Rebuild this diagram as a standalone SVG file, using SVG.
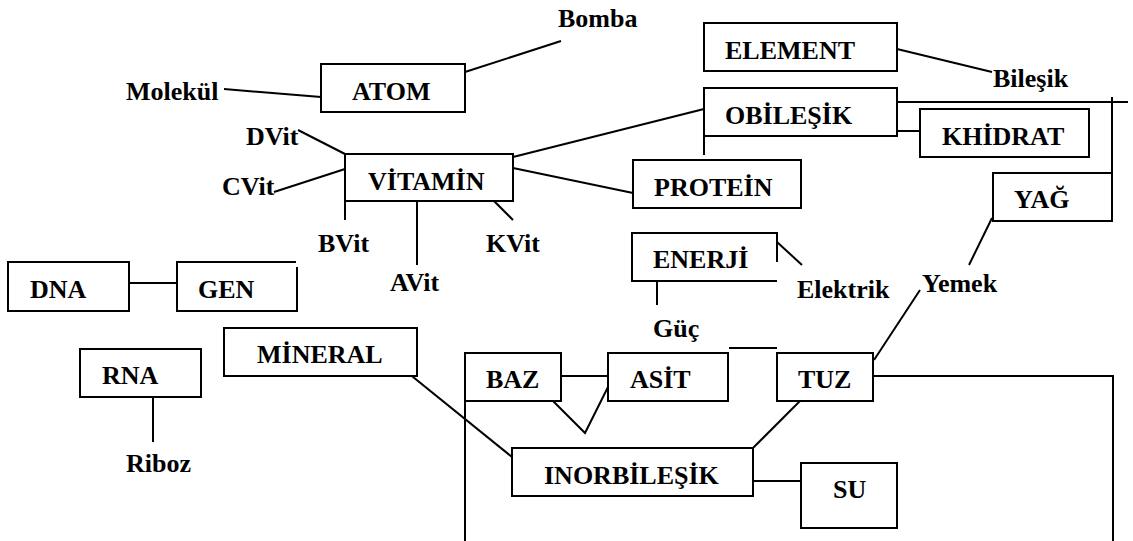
<svg xmlns="http://www.w3.org/2000/svg" width="1133" height="541" viewBox="0 0 1133 541">
<style>
.b{fill:#fff;stroke:#000;stroke-width:2}
.t{font-family:"Liberation Serif","Times New Roman",serif;font-weight:bold;font-size:26px;fill:#000}
.c line,.c polyline{stroke:#000;stroke-width:2;fill:none}
</style>
<rect width="1133" height="541" fill="#fff"/>
<g id="connectors" class="c">
<line x1="224" y1="89" x2="321" y2="97"/>
<line x1="465" y1="72" x2="561" y2="41"/>
<line x1="897" y1="49" x2="992" y2="72"/>
<line x1="895" y1="102" x2="1128" y2="102"/>
<line x1="1112" y1="97" x2="1112" y2="222"/>
<line x1="897" y1="131" x2="920" y2="131"/>
<line x1="704" y1="136" x2="704" y2="155"/>
<line x1="513" y1="157" x2="704" y2="109"/>
<line x1="513" y1="168" x2="633" y2="193"/>
<line x1="298" y1="130" x2="345" y2="154"/>
<line x1="274" y1="192" x2="345" y2="169"/>
<line x1="345" y1="201" x2="345" y2="220"/>
<line x1="417" y1="193" x2="417" y2="265"/>
<line x1="489" y1="196" x2="513" y2="220"/>
<line x1="777" y1="242" x2="802" y2="265"/>
<line x1="657" y1="281" x2="657" y2="305"/>
<line x1="992" y1="218" x2="969" y2="265"/>
<line x1="874" y1="360" x2="920" y2="290"/>
<line x1="729" y1="348" x2="777" y2="348"/>
<line x1="561" y1="376" x2="608" y2="376"/>
<polyline points="538,386 585,433 608,387"/>
<line x1="800" y1="401" x2="753" y2="448"/>
<line x1="392" y1="360" x2="512" y2="457"/>
<line x1="753" y1="481" x2="801" y2="481"/>
<polyline points="873,376 1113,376 1113,541"/>
<line x1="465" y1="401" x2="465" y2="541"/>
<line x1="129" y1="283" x2="177" y2="283"/>
<line x1="153" y1="393" x2="153" y2="442"/>
</g>
<g id="atom"><rect class="b" x="321" y="64" width="144" height="48"/><text class="t" x="352" y="100">ATOM</text></g>
<g id="vitamin"><rect class="b" x="345" y="154" width="168" height="47"/><text class="t" x="368" y="190">VİTAMİN</text></g>
<g id="element"><rect class="b" x="704" y="23" width="193" height="48"/><text class="t" x="725" y="59">ELEMENT</text></g>
<g id="obilesik"><rect class="b" x="704" y="88" width="193" height="48"/><text class="t" x="725" y="124">OBİLEŞİK</text></g>
<g id="khidrat"><rect class="b" x="920" y="109" width="169" height="48"/><text class="t" x="942" y="145">KHİDRAT</text></g>
<g id="protein"><rect class="b" x="633" y="160" width="168" height="48"/><text class="t" x="654" y="196">PROTEİN</text></g>
<g id="yag"><rect class="b" x="993" y="173" width="119" height="48"/><text class="t" x="1014" y="208">YAĞ</text></g>
<g id="enerji"><path class="b" d="M777,262 V233 H632 V281 H777"/><text class="t" x="653" y="268">ENERJİ</text></g>
<g id="dna"><rect class="b" x="8" y="262" width="121" height="49"/><text class="t" x="30" y="298">DNA</text></g>
<g id="gen"><path class="b" d="M296,262 H177 V311 H297 V267"/><text class="t" x="198" y="298">GEN</text></g>
<g id="rna"><rect class="b" x="80" y="349" width="121" height="48"/><text class="t" x="102" y="384">RNA</text></g>
<g id="mineral"><rect class="b" x="224" y="328" width="193" height="48"/><text class="t" x="257" y="363">MİNERAL</text></g>
<g id="baz"><rect class="b" x="465" y="353" width="96" height="48"/><text class="t" x="486" y="388">BAZ</text></g>
<g id="asit"><rect class="b" x="608" y="353" width="120" height="48"/><text class="t" x="630" y="388">ASİT</text></g>
<g id="tuz"><rect class="b" x="777" y="353" width="96" height="48"/><text class="t" x="798" y="388">TUZ</text></g>
<g id="inorbilesik"><rect class="b" x="512" y="448" width="241" height="48"/><text class="t" x="544" y="484">INORBİLEŞİK</text></g>
<g id="su"><rect class="b" x="801" y="463" width="96" height="65"/><text class="t" x="833" y="498">SU</text></g>
<g id="labels">
<text class="t" x="126" y="100">Molekül</text>
<text class="t" x="558" y="27">Bomba</text>
<text class="t" x="993" y="87">Bileşik</text>
<text class="t" x="246" y="145">DVit</text>
<text class="t" x="222" y="195">CVit</text>
<text class="t" x="318" y="252">BVit</text>
<text class="t" x="390" y="291">AVit</text>
<text class="t" x="486" y="252">KVit</text>
<text class="t" x="797" y="298">Elektrik</text>
<text class="t" x="922" y="292">Yemek</text>
<text class="t" x="653" y="337">Güç</text>
<text class="t" x="126" y="472">Riboz</text>
</g>
</svg>
